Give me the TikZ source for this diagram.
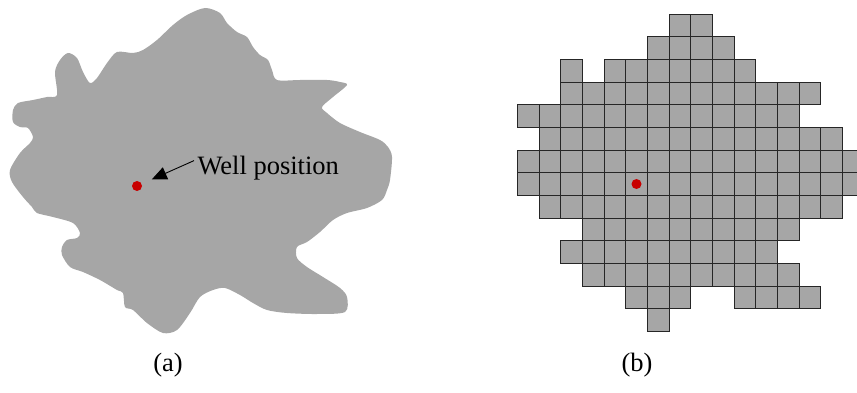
\documentclass[tikz,border=0pt]{standalone}
\usepackage{fontspec}
\setmainfont{Liberation Serif}
\usepackage{xcolor}
\usetikzlibrary{arrows.meta}
\definecolor{rockgray}{RGB}{166,166,166}
\definecolor{wellred}{RGB}{200,0,0}
\begin{document}
\begin{tikzpicture}[x=1pt, y=-1pt,
        cell/.style={fill=rockgray, draw=black!85, line width=0.8pt},
        well/.style={circle, fill=wellred, inner sep=0pt, minimum size=10pt},
        subcap/.style={font=\fontsize{26.5}{30}\selectfont},
    ]
    \useasboundingbox (0,0) rectangle (857,393);

    % Irregular reservoir outline
    \fill[rockgray] plot[smooth cycle, tension=0.5] coordinates {
        (205,8) (220,13) (227,23) (237,32) (247,37) (253,47) (260,55) (268,60)
        (272,70) (277,80) (300,80) (327,80) (340,82) (347,85) (333,97) (322,107)
        (327,113) (340,123) (360,132) (380,140) (388,147) (392,157) (390,180)
        (387,190) (382,200) (367,208) (347,213) (333,220) (320,232) (307,242)
        (297,247) (297,258) (307,267) (323,277) (340,288) (347,297) (345,312)
        (317,314) (287,313) (267,310) (253,303) (240,295) (225,288) (213,290)
        (200,297) (190,313) (177,330) (163,333) (147,323) (133,310) (125,307)
        (123,293) (117,290) (100,280) (83,272) (70,267) (62,255) (62,247)
        (67,240) (77,238) (80,233) (73,223) (53,217) (37,213) (32,207) (23,197)
        (12,182) (10,170) (20,153) (30,143) (33,137) (28,128) (20,127) (13,122)
        (13,110) (18,103) (33,100) (47,97) (57,95) (55,72) (60,60) (68,53)
        (77,58) (83,72) (90,83) (97,78) (107,63) (117,52) (133,53) (143,50)
        (157,40) (173,25) (187,15)};

    % Well and its label
    \node[well] (wellA) at (137,186) {};
    \node[subcap, anchor=base west] (welltext) at (194,175) {Well position};
    \draw[-{Triangle[length=15pt, width=13pt]}, line width=0.9pt, shorten >=11pt]
        ([yshift=8pt]welltext.west) -- (wellA);

    % Gridded model: row/first column/last column
    \foreach \r/\a/\b in {0/7/8, 1/6/9, 2/2/2, 2/4/10, 3/2/13, 4/0/12, 5/1/14,
            6/0/15, 7/0/15, 8/1/14, 9/3/12, 10/2/11, 11/3/12, 12/5/7, 12/10/13, 13/6/6} {
        \foreach \c in {\a,...,\b} {
            \draw[cell] (517.3+21.67*\c, 14+22.67*\r) rectangle ++(21.67,22.67);
        }
    }
    \node[well] (wellB) at (636.5,184) {};

    % Sub-figure captions
    \node[subcap] (capA) at (168,365) {(a)};
    \node[subcap] (capB) at (637,365) {(b)};
\end{tikzpicture}
\end{document}
